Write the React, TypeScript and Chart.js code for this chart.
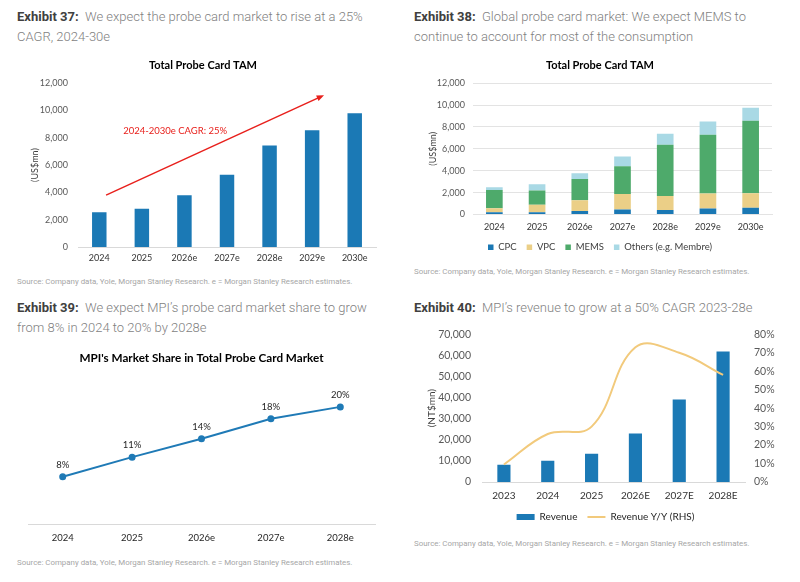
import React, { useEffect, useRef } from "react";
import { Chart, registerables } from "chart.js";
Chart.register(...registerables);

const FONT = "Lato, 'Open Sans', sans-serif";
const HEAD_FONT = "Roboto, 'Open Sans', sans-serif";
const BLUE = "#1b79b5";
const TICK = "#595959";

// ---------- Exhibit 37 ----------
const tamYears = ["2024", "2025", "2026e", "2027e", "2028e", "2029e", "2030e"];
const tamTotal = [2550, 2800, 3800, 5300, 7430, 8560, 9800];
const cagrArrow = { fromIndex: 0.16, fromValue: 3800, toIndex: 5.28, toValue: 11120 };
const cagrText = "2024-2030e CAGR: 25%";
const cagrTextPos = { index: 0.56, value: 8500 };

// ---------- Exhibit 38 ----------
const segYears = ["2024", "2025", "2026e", "2027e", "2028e", "2029e", "2030e"];
const cpc = [210, 210, 330, 460, 400, 550, 610];
const vpc = [370, 670, 980, 1420, 1300, 1360, 1340];
const mems = [1670, 1310, 1940, 2530, 4680, 5380, 6620];
const others = [240, 580, 520, 880, 1010, 1220, 1190];

// ---------- Exhibit 39 ----------
const shareYears = ["2024", "2025", "2026e", "2027e", "2028e"];
const mpiShare = [8.0, 11.3, 14.4, 17.8, 19.8];

// ---------- Exhibit 40 ----------
const revYears = ["2023", "2024", "2025", "2026E", "2027E", "2028E"];
const revenue = [8200, 10100, 13400, 23000, 39100, 61800];
const revenueYoY = [9.5, 26, 30, 73, 70, 58];

const SOURCE =
  "Source: Company data, Yole, Morgan Stanley Research. e = Morgan Stanley Research estimates.";

const arrowPlugin = {
  id: "cagrArrow",
  afterDatasetsDraw(chart: any) {
    const { ctx, scales } = chart;
    const x = scales.x;
    const y = scales.y;
    const x0 = x.getPixelForValue(cagrArrow.fromIndex);
    const y0 = y.getPixelForValue(cagrArrow.fromValue);
    const x1 = x.getPixelForValue(cagrArrow.toIndex);
    const y1 = y.getPixelForValue(cagrArrow.toValue);
    const ang = Math.atan2(y1 - y0, x1 - x0);
    const head = 8;
    ctx.save();
    ctx.strokeStyle = "#e8201c";
    ctx.fillStyle = "#e8201c";
    ctx.lineWidth = 1.5;
    ctx.beginPath();
    ctx.moveTo(x0, y0);
    ctx.lineTo(x1 - Math.cos(ang) * head * 0.8, y1 - Math.sin(ang) * head * 0.8);
    ctx.stroke();
    ctx.beginPath();
    ctx.moveTo(x1, y1);
    ctx.lineTo(x1 - head * Math.cos(ang - 0.38), y1 - head * Math.sin(ang - 0.38));
    ctx.lineTo(x1 - head * Math.cos(ang + 0.38), y1 - head * Math.sin(ang + 0.38));
    ctx.closePath();
    ctx.fill();
    ctx.font = `9.5px ${FONT}`;
    ctx.textAlign = "left";
    ctx.textBaseline = "middle";
    ctx.fillText(cagrText, x.getPixelForValue(cagrTextPos.index), y.getPixelForValue(cagrTextPos.value));
    ctx.restore();
  },
};

const pointLabelPlugin = {
  id: "pointLabels",
  afterDatasetsDraw(chart: any) {
    const { ctx } = chart;
    const meta = chart.getDatasetMeta(0);
    const data = chart.data.datasets[0].data as number[];
    ctx.save();
    ctx.font = `9.5px ${FONT}`;
    ctx.fillStyle = "#262626";
    ctx.textAlign = "center";
    ctx.textBaseline = "middle";
    meta.data.forEach((pt: any, i: number) => {
      ctx.fillText(Math.round(data[i]) + "%", pt.x, pt.y - 12);
    });
    ctx.restore();
  },
};

function ChartBox({ left, top, width, height, make }: any) {
  const ref = useRef<HTMLCanvasElement>(null);
  useEffect(() => {
    const chart = new Chart(ref.current as HTMLCanvasElement, make());
    return () => chart.destroy();
  }, []);
  return (
    <div style={{ position: "absolute", left, top, width, height }}>
      <canvas ref={ref} width={width} height={height} style={{ width, height, display: "block" }} />
    </div>
  );
}

const tickFont = (size: number, weight: any = "normal") => ({ family: FONT, size, weight });

function chart1(): any {
  return {
    type: "bar",
    data: {
      labels: tamYears,
      datasets: [
        { data: tamTotal, backgroundColor: BLUE, barPercentage: 0.34, categoryPercentage: 1 },
      ],
    },
    options: {
      animation: false,
      responsive: false,
      layout: { padding: { left: 30, right: 24, top: 9, bottom: 10 } },
      plugins: {
        legend: { display: false },
        tooltip: { enabled: false },
        title: {
          display: true,
          text: "Total Probe Card TAM",
          color: "#000",
          font: { family: FONT, size: 11, weight: "bold" },
          padding: { top: 0, bottom: 11 },
        },
      },
      scales: {
        x: {
          grid: { display: false, drawTicks: false },
          border: { display: true, color: "#d9d9d9" },
          ticks: { font: tickFont(9), color: "#333", padding: 6 },
          afterFit: (s: any) => { s.height = 18; },
        },
        y: {
          min: 0,
          max: 12000,
          ticks: { stepSize: 2000, font: tickFont(9), color: TICK, padding: 10 },
          grid: { display: false, drawTicks: false },
          border: { display: false },
          title: { display: true, text: "(US$mn)", font: tickFont(9), color: "#404040", padding: 0 },
          afterFit: (s: any) => { s.width = 48; },
        },
      },
    },
    plugins: [arrowPlugin],
  };
}

function chart2(): any {
  const ds = (label: string, data: number[], color: string) => ({
    label,
    data,
    backgroundColor: color,
    barPercentage: 0.39,
    categoryPercentage: 1,
  });
  return {
    type: "bar",
    data: {
      labels: segYears,
      datasets: [
        ds("CPC", cpc, "#1a78b4"),
        ds("VPC", vpc, "#ebcf87"),
        ds("MEMS", mems, "#4eaa6b"),
        ds("Others (e.g. Membre)", others, "#a9d9e5"),
      ],
    },
    options: {
      animation: false,
      responsive: false,
      layout: { padding: { left: 28, right: 28, top: 9, bottom: 0 } },
      plugins: {
        legend: {
          position: "bottom",
          labels: {
            boxWidth: 5.5,
            boxHeight: 5.5,
            padding: 10,
            color: "#404040",
            font: { family: FONT, size: 9.5 },
          },
        },
        tooltip: { enabled: false },
        title: {
          display: true,
          text: "Total Probe Card TAM",
          color: "#000",
          font: { family: FONT, size: 11, weight: "bold" },
          padding: { top: 0, bottom: 11 },
        },
      },
      scales: {
        x: {
          stacked: true,
          grid: { display: false, drawTicks: false },
          border: { display: true, color: "#e3e3e3" },
          ticks: { font: tickFont(9), color: "#333", padding: 7.5 },
          afterFit: (s: any) => { s.height = 18; },
        },
        y: {
          stacked: true,
          min: 0,
          max: 12000,
          ticks: { stepSize: 2000, font: tickFont(9), color: TICK, padding: 8 },
          grid: { display: true, drawTicks: false, color: "#e3e3e3" },
          border: { display: false },
          title: { display: true, text: "(US$mn)", font: tickFont(9), color: "#404040", padding: 0 },
          afterFit: (s: any) => { s.width = 45; },
        },
      },
    },
  };
}

function chart3(): any {
  return {
    type: "line",
    data: {
      labels: shareYears,
      datasets: [
        {
          data: mpiShare,
          borderColor: "#1f7ab6",
          backgroundColor: "#1f7ab6",
          borderWidth: 2,
          pointRadius: 2.5,
          tension: 0,
        },
      ],
    },
    options: {
      animation: false,
      responsive: false,
      layout: { padding: { left: 28, right: 25, top: 0, bottom: 6 } },
      plugins: {
        legend: { display: false },
        tooltip: { enabled: false },
        title: {
          display: true,
          text: "MPI's Market Share in Total Probe Card Market",
          color: "#000",
          font: { family: FONT, size: 11.7, weight: "bold" },
          padding: { top: 11, bottom: 17 },
        },
      },
      scales: {
        x: {
          offset: true,
          grid: { display: false, drawTicks: false },
          border: { display: true, color: "#d9d9d9" },
          ticks: { font: tickFont(9.5), color: "#262626", padding: 8 },
          afterFit: (s: any) => { s.height = 20; },
        },
        y: { display: false, min: 0, max: 24 },
      },
    },
    plugins: [pointLabelPlugin],
  };
}

function chart4(): any {
  return {
    type: "bar",
    data: {
      labels: revYears,
      datasets: [
        {
          type: "bar",
          label: "Revenue",
          data: revenue,
          backgroundColor: BLUE,
          barPercentage: 0.3,
          categoryPercentage: 1,
          yAxisID: "y",
          order: 1,
          pointStyle: "rect",
        },
        {
          type: "line",
          label: "Revenue Y/Y (RHS)",
          data: revenueYoY,
          borderColor: "#f2ca7c",
          backgroundColor: "#f2ca7c",
          borderWidth: 2,
          pointRadius: 0,
          tension: 0.4,
          yAxisID: "y1",
          order: 0,
          pointStyle: "line",
        },
      ],
    },
    options: {
      animation: false,
      responsive: false,
      layout: { padding: { left: 26, right: 15, top: 0, bottom: 0 } },
      plugins: {
        legend: {
          position: "bottom",
          labels: {
            usePointStyle: true,
            pointStyleWidth: 18,
            boxHeight: 6,
            padding: 10,
            color: "#262626",
            font: { family: FONT, size: 10 },
            sort: (a: any, b: any) => a.datasetIndex - b.datasetIndex,
          },
        },
        tooltip: { enabled: false },
      },
      scales: {
        x: {
          grid: { display: false, drawTicks: false },
          border: { display: true, color: "#d9d9d9" },
          ticks: { font: tickFont(10), color: "#333", padding: 8 },
          afterFit: (s: any) => { s.height = 20; },
        },
        y: {
          position: "left",
          min: 0,
          max: 70000,
          ticks: { stepSize: 10000, font: tickFont(10.5), color: TICK, padding: 11 },
          grid: { display: false, drawTicks: false },
          border: { display: false },
          title: { display: true, text: "(NT$mn)", font: tickFont(10), color: "#404040", padding: 0 },
          afterFit: (s: any) => { s.width = 56; },
        },
        y1: {
          position: "right",
          min: 0,
          max: 80,
          ticks: { stepSize: 10, font: tickFont(10.5), color: TICK, padding: 9, callback: (v: any) => v + "%" },
          grid: { display: false, drawTicks: false },
          border: { display: false },
          afterFit: (s: any) => { s.width = 40; },
        },
      },
    },
  };
}

function Heading({ left, top, label, lines }: any) {
  return (
    <div
      style={{
        position: "absolute",
        left,
        top,
        fontFamily: HEAD_FONT,
        fontSize: 13,
        lineHeight: "20px",
        color: "#7f7f7f",
        whiteSpace: "nowrap",
        fontWeight: 300,
      }}
    >
      <span style={{ color: "#404040", fontWeight: 700 }}>{label}</span>
      {"\u00a0\u00a0"}
      {lines[0]}
      {lines[1] ? <br /> : null}
      {lines[1]}
    </div>
  );
}

function Source({ left, top }: any) {
  return (
    <div
      style={{
        position: "absolute",
        left,
        top,
        fontFamily: HEAD_FONT,
        fontSize: 7.9,
        lineHeight: "10px",
        color: "#a6a6a6",
        whiteSpace: "nowrap",
      }}
    >
      {SOURCE}
    </div>
  );
}

export default function App() {
  return (
    <div
      style={{
        position: "absolute",
        left: 0,
        top: 0,
        width: 800,
        height: 582,
        background: "#fff",
        overflow: "hidden",
      }}
    >
      <Heading left={17} top={7} label="Exhibit 37:" lines={["We expect the probe card market to rise at a 25%", "CAGR, 2024-30e"]} />
      <Heading left={414} top={7} label="Exhibit 38:" lines={["Global probe card market: We expect MEMS to", "continue to account for most of the consumption"]} />
      <Heading left={17} top={298} label="Exhibit 39:" lines={["We expect MPI\u2019s probe card market share to grow", "from 8% in 2024 to 20% by 2028e"]} />
      <Heading left={414} top={298} label="Exhibit 40:" lines={["MPI\u2019s revenue to grow at a 50% CAGR 2023-28e"]} />

      <ChartBox left={0} top={50} width={400} height={225} make={chart1} />
      <ChartBox left={400} top={50} width={400} height={212} make={chart2} />
      <ChartBox left={0} top={340} width={400} height={210} make={chart3} />
      <ChartBox left={400} top={317} width={400} height={215} make={chart4} />

      <Source left={17} top={277} />
      <Source left={414} top={267} />
      <Source left={17} top={558} />
      <Source left={414} top={539} />
    </div>
  );
}
